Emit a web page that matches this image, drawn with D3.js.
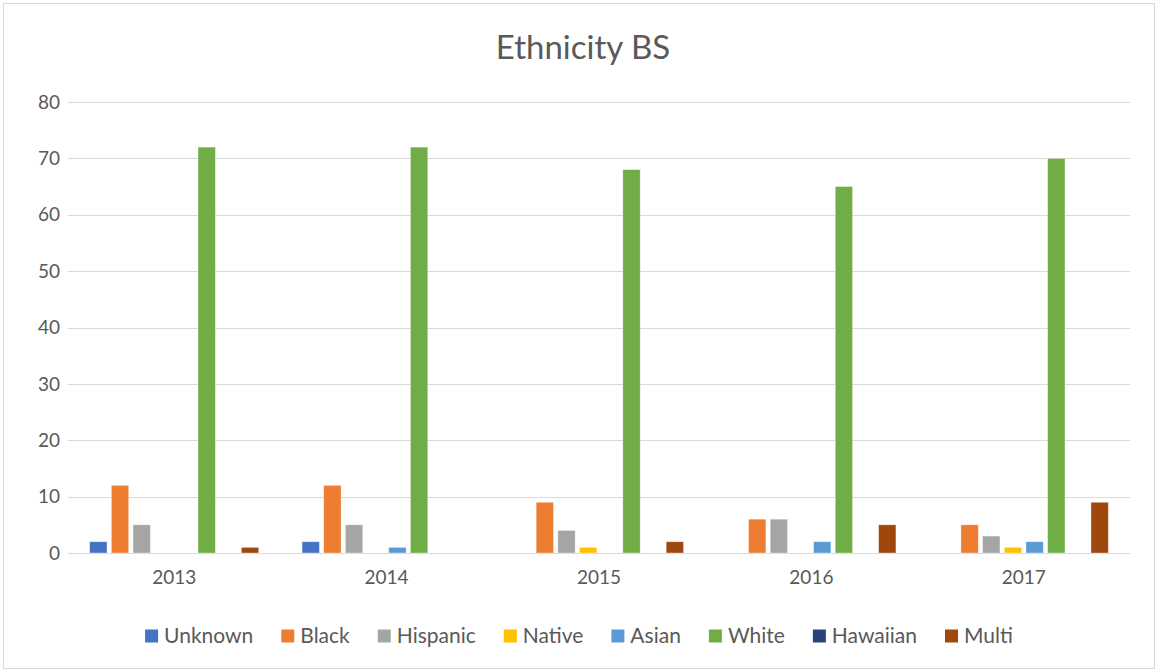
<!DOCTYPE html>
<html lang="en">
<head>
    <meta charset="UTF-8">
    <title>Ethnicity BS</title>
    <style>
        body { margin: 0; background: #fff; }
        text { font-family: Lato, "Noto Sans", sans-serif; fill: #595959; }
    </style>
    <script src="https://cdn.jsdelivr.net/npm/d3@7"></script>
</head>
<body>
<script>
    const width = 1158;
    const height = 672;

    const years = ["2013", "2014", "2015", "2016", "2017"];
    const groups = ["Unknown", "Black", "Hispanic", "Native", "Asian", "White", "Hawaiian", "Multi"];
    const colors = ["#4472C4", "#ED7D31", "#A5A5A5", "#FFC000", "#5B9BD5", "#70AD47", "#264478", "#9E480E"];
    // one value per year, in the order of years
    const unknown  = [2, 2, 0, 0, 0];
    const black    = [12, 12, 9, 6, 5];
    const hispanic = [5, 5, 4, 6, 3];
    const native   = [0, 0, 1, 0, 1];
    const asian    = [0, 1, 0, 2, 2];
    const white    = [72, 72, 68, 65, 70];
    const hawaiian = [0, 0, 0, 0, 0];
    const multi    = [1, 0, 2, 5, 9];
    const yTicks = [0, 10, 20, 30, 40, 50, 60, 70, 80];

    const series = [unknown, black, hispanic, native, asian, white, hawaiian, multi];
    const rows = years.map((y, i) => ({
        year: y,
        values: groups.map((g, j) => ({key: g, value: series[j][i]}))
    }));

    const margin = {top: 102, right: 28, bottom: 119, left: 68};

    const svg = d3.select("body").append("svg")
        .attr("width", width).attr("height", height);

    svg.append("rect")
        .attr("x", 3.5).attr("y", 3.5)
        .attr("width", width - 7).attr("height", height - 7)
        .style("fill", "#fff").style("stroke", "#d9d9d9");

    svg.append("text")
        .attr("x", 583).attr("y", 59)
        .style("text-anchor", "middle")
        .style("font-size", "33px")
        .text("Ethnicity BS");

    const x0 = d3.scaleBand().domain(years)
        .range([margin.left, width - margin.right]);
    const x1 = d3.scaleBand().domain(groups)
        .range([0, x0.bandwidth()])
        .paddingInner(0.2).paddingOuter(1.0);
    const y = d3.scaleLinear().domain([0, 80])
        .range([height - margin.bottom, margin.top]);
    const color = d3.scaleOrdinal().domain(groups).range(colors);

    // gridlines
    svg.append("g")
        .selectAll("line")
        .data(yTicks)
        .join("line")
        .attr("x1", margin.left).attr("x2", width - margin.right)
        .attr("y1", d => Math.round(y(d)) + 0.5).attr("y2", d => Math.round(y(d)) + 0.5)
        .style("stroke", "#d9d9d9").style("stroke-width", 1);

    // y labels
    svg.append("g")
        .selectAll("text")
        .data(yTicks)
        .join("text")
        .attr("x", 60).attr("y", d => y(d))
        .attr("dy", "0.35em")
        .style("text-anchor", "end")
        .style("font-size", "19px")
        .text(d => d);

    // bars
    svg.append("g")
        .selectAll("g")
        .data(rows)
        .join("g")
        .attr("transform", d => `translate(${x0(d.year)},0)`)
        .selectAll("rect")
        .data(d => d.values.filter(v => v.value > 0))
        .join("rect")
        .attr("x", d => x1(d.key))
        .attr("y", d => y(d.value))
        .attr("width", x1.bandwidth())
        .attr("height", d => y(0) - y(d.value))
        .style("fill", d => color(d.key))
        .style("stroke", "#fff").style("stroke-opacity", 0.5).style("stroke-width", 0.7);

    // x labels
    svg.append("g")
        .selectAll("text")
        .data(years)
        .join("text")
        .attr("x", d => x0(d) + x0.bandwidth() / 2)
        .attr("y", 584)
        .style("text-anchor", "middle")
        .style("font-size", "19px")
        .text(d => d);

    // legend
    const legend = svg.append("g");
    const items = legend.selectAll("g")
        .data(groups)
        .join("g");
    items.append("rect")
        .attr("width", 13).attr("height", 13)
        .attr("y", -6.5)
        .style("fill", d => color(d));
    items.append("text")
        .attr("x", 19).attr("dy", "0.35em")
        .style("font-size", "21px")
        .text(d => d);

    let pos = 0;
    items.each(function() {
        d3.select(this).attr("transform", `translate(${pos},0)`);
        pos += 19 + this.querySelector("text").getComputedTextLength() + 28;
    });
    pos -= 28;
    legend.attr("transform", `translate(${(width - pos) / 2},636)`);
</script>
</body>
</html>
